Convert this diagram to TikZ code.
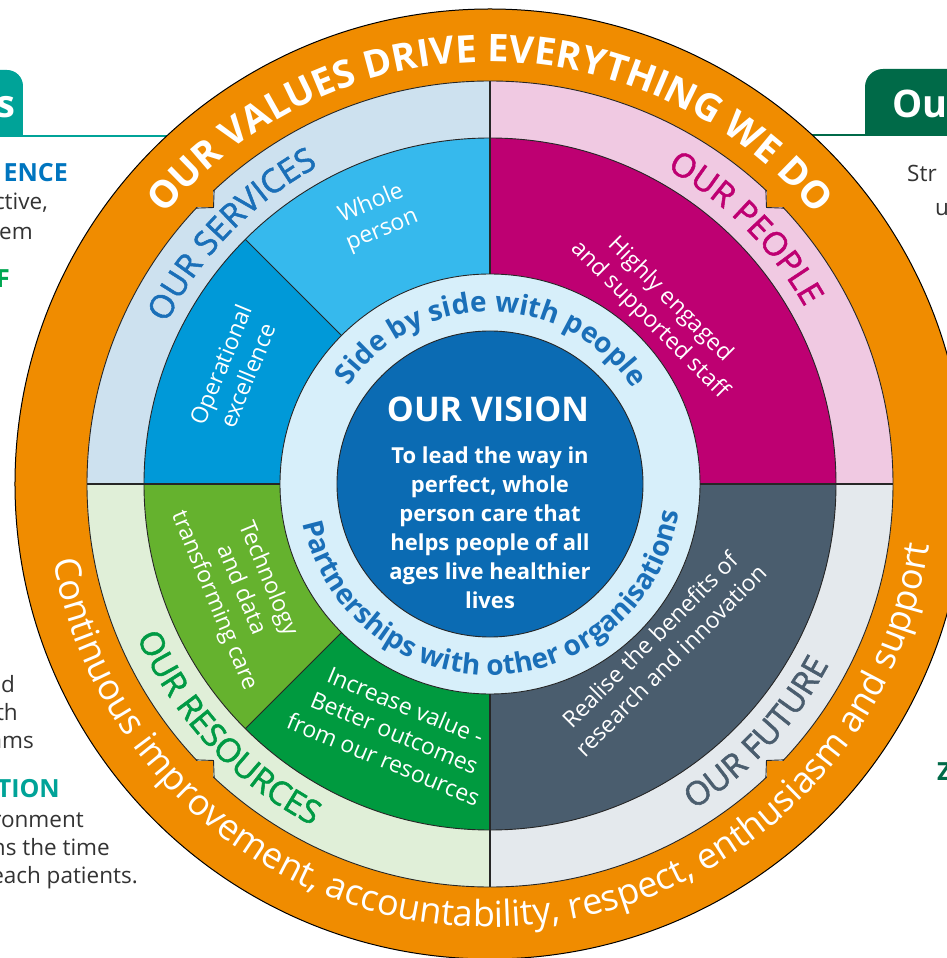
\documentclass[tikz,border=0pt]{standalone}
\usepackage{fontspec}
\setmainfont{Open Sans}
\newfontfamily\labelfont[FakeBold=1.6]{Open Sans}
\usetikzlibrary{decorations.text}
\definecolor{valorange}{HTML}{F08C00}
\definecolor{svcring}{HTML}{CDE1EF}
\definecolor{pplring}{HTML}{F0C9E2}
\definecolor{resring}{HTML}{E0EFD8}
\definecolor{futring}{HTML}{E4E9ED}
\definecolor{svcop}{HTML}{0099D8}
\definecolor{svcwhole}{HTML}{36B9ED}
\definecolor{pplfill}{HTML}{BE0072}
\definecolor{restech}{HTML}{65B22E}
\definecolor{resvalue}{HTML}{009A3F}
\definecolor{futfill}{HTML}{4A5D6E}
\definecolor{sidering}{HTML}{D7EFFA}
\definecolor{visionblue}{HTML}{0B6BB3}
\definecolor{svctext}{HTML}{1A6FB8}
\definecolor{restext}{HTML}{009A44}
\definecolor{tealtab}{HTML}{00A398}
\definecolor{greentab}{HTML}{006A48}
\definecolor{panelblue}{HTML}{0075BF}
\definecolor{panelgreen}{HTML}{00A651}
\definecolor{paneltextc}{HTML}{333333}
\begin{document}
\begin{tikzpicture}[x=1pt,y=1pt,
  ringline/.style={draw=black!85,line width=.9pt},
  divider/.style={draw=black!85,line width=2.6pt},
  curved/.style={decorate,decoration={text along path,text align=center,text={#1}}},
  seglabel/.style={text=white,align=center,font=\fontsize{23}{29}\selectfont},
  paneltext/.style={text=paneltextc,anchor=base east,inner sep=0pt,font=\fontsize{22.5}{28}\selectfont},
  panelhead/.style={anchor=base east,inner sep=0pt,font=\bfseries\fontsize{25}{28}\selectfont},
  tablabel/.style={text=white,inner sep=0pt,font=\bfseries\fontsize{38}{40}\selectfont}]
\useasboundingbox (-490,-474) rectangle (457,484);
\fill[white] (-490,-474) rectangle (457,484);
% side panels
\fill[tealtab] (-495,348) -- (-495,414) -- (-483,414) arc (90:0:16) -- (-467,348) -- cycle;
\draw[tealtab,line width=2pt] (-495,348) -- (-300,348);
\node[tablabel,anchor=base east] (tabs) at (-474,366) {s};
\node[panelhead,text=panelblue] (excel) at (-422,302) {ENCE};
\node[paneltext] (excelA) at (-442,274) {ctive,};
\node[paneltext] (excelB) at (-457,244) {em};
\node[panelhead,text=panelgreen] (staffh) at (-480,196) {F};
\node[paneltext] (teamA) at (-475,-208) {d};
\node[paneltext] (teamB) at (-472,-236) {th};
\node[paneltext] (teamC) at (-456,-264) {ams};
\node[panelhead,text=tealtab] (innov) at (-430,-313) {TION};
\node[paneltext] (innovA) at (-406,-343) {ronment};
\node[paneltext] (innovB) at (-380,-371) {ns the time};
\node[paneltext] (innovC) at (-352,-399) {each patients.};
\fill[greentab] (465,349) -- (465,415) -- (393,415) arc (90:180:18) -- (375,349) -- cycle;
\draw[greentab,line width=2pt] (300,349) -- (465,349);
\node[tablabel,anchor=base west] (tabou) at (402,366) {Ou};
\node[paneltext,anchor=base west] (strA) at (417,302) {Str};
\node[paneltext,anchor=base west] (strB) at (445,268) {u};
\node[panelhead,anchor=base west,text=greentab] (zh) at (447,-296) {Z};
% wheel
\filldraw[fill=valorange,draw=black,line width=1pt] (0,0) circle (475);
\foreach \a/\b/\c in {90/180/svcring,0/90/pplring,180/270/resring,270/360/futring}
  \fill[\c] (0,0) -- (\a:403) arc (\a:\b:403) -- cycle;
\foreach \a/\b/\c in {135/180/svcop,90/135/svcwhole,0/90/pplfill,180/225/restech,225/270/resvalue,270/360/futfill}
  \fill[\c] (0,0) -- (\a:346) arc (\a:\b:346) -- cycle;
\filldraw[fill=sidering,ringline] (0,0) circle (210);
\filldraw[fill=visionblue,ringline] (0,0) circle (153);
\draw[ringline] (0,0) circle (403) (0,0) circle (346);
\foreach \a in {135,225}
  \draw[ringline] (\a:210) -- (\a:346);
\foreach \a in {0,90,180,270}
  \draw[divider] (\a:210) -- (\a:403);
\foreach \a in {45,135,225,315}
{
  \fill[valorange] ({\a-1.8}:405) -- (\a:391) -- ({\a+1.8}:405) -- cycle;
  \draw[ringline] ({\a-1.8}:403) -- (\a:391) -- ({\a+1.8}:403);
}
% ring texts
\path[curved={|\bfseries\fontsize{38}{40}\selectfont\color{white}|OUR VALUES DRIVE EVERYTHING WE DO}] (160:422) arc (160:20:422);
\path[curved={|\fontsize{36}{40}\selectfont\color{white}|Continuous improvement, accountability, respect, enthusiasm and support}] (181:443) arc (181:361:443);
\path[curved={|\labelfont\fontsize{33}{36}\selectfont\color{svctext}|OUR SERVICES}] (166:361) arc (166:106:361);
\path[curved={|\labelfont\fontsize{33}{36}\selectfont\color{pplfill}|OUR PEOPLE}] (75:361) arc (75:15:361);
\path[curved={|\labelfont\fontsize{33}{36}\selectfont\color{restext}|OUR RESOURCES}] (193:385) arc (193:253:385);
\path[curved={|\labelfont\fontsize{33}{36}\selectfont\color{futfill}|OUR FUTURE}] (287:384) arc (287:347:384);
\path[curved={|\bfseries\fontsize{28}{30}\selectfont\color{svctext}|Side by side with people}] (170:172) arc (170:9:172);
\path[curved={|\bfseries\fontsize{28}{30}\selectfont\color{svctext}|Partnerships with other organisations}] (182:191) arc (182:361.4:191);
% segment texts
\node[seglabel,rotate=22.5] (whole) at (113:290) {Whole\\person};
\node[seglabel,rotate=67.5] (operational) at (156:280) {Operational\\excellence};
\node[seglabel,rotate=-45] (engaged) at (45.7:243) {Highly engaged\\and supported staff};
\node[seglabel,rotate=-67.5] (techdata) at (203:271) {Technology\\and data\\transforming care};
\node[seglabel,rotate=-22.5] (valueres) at (249:266) {Increase value -\\Better outcomes\\from our resources};
\node[seglabel,rotate=45] (research) at (315.7:238) {Realise the benefits of\\research and innovation};
% vision
\node[text=white,anchor=base,font=\bfseries\fontsize{34}{36}\selectfont] (vision) at (-2,62) {OUR VISION};
\node[text=white,align=center,font=\bfseries\fontsize{22}{29}\selectfont] (visiontext) at (0,-44) {To lead the way in\\perfect, whole\\person care that\\helps people of all\\ages live healthier\\lives};
\end{tikzpicture}
\end{document}
